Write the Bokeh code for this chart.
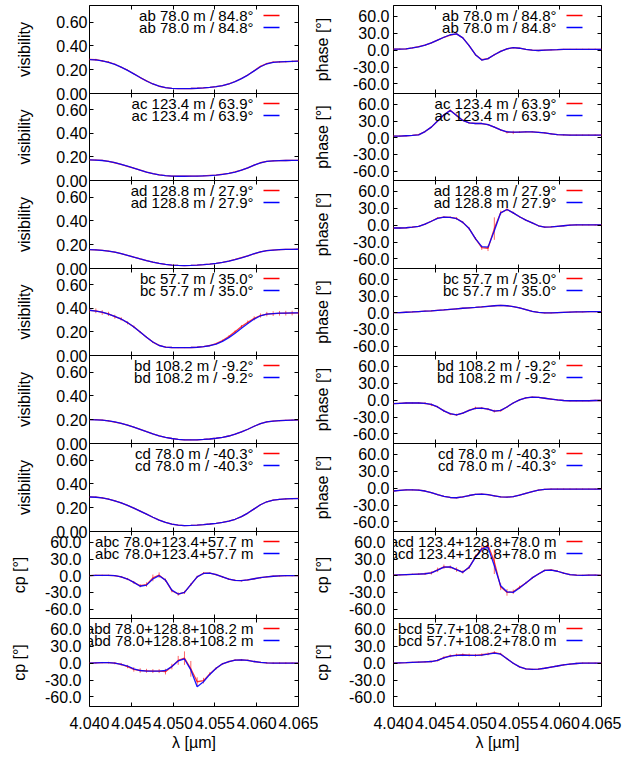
from bokeh.plotting import figure
from bokeh.layouts import row, column
from bokeh.models import Range1d, LinearAxis, FixedTicker, PrintfTickFormatter, Label
from bokeh.embed import file_html
from bokeh.resources import INLINE

# ---------------- data ----------------
wavelength = [4.04000, 4.04076, 4.04152, 4.04227, 4.04303, 4.04379, 4.04455, 4.04530,
              4.04606, 4.04682, 4.04758, 4.04833, 4.04909, 4.04985, 4.05061, 4.05136,
              4.05212, 4.05288, 4.05364, 4.05439, 4.05515, 4.05591, 4.05667, 4.05742,
              4.05818, 4.05894, 4.05970, 4.06045, 4.06121, 4.06197, 4.06273, 4.06348,
              4.06424, 4.06500]

x_ticks = [4.040, 4.045, 4.050, 4.055, 4.060, 4.065]
vis_ticks = [0.0, 0.2, 0.4, 0.6]
phase_ticks = [-60.0, -30.0, 0.0, 30.0, 60.0]

# visibilities (observed = red, model = blue)
vis_ab_obs = [0.287,0.284,0.274,0.264,0.246,0.221,0.196,0.166,0.134,0.106,0.080,0.061,0.050,0.043,0.041,0.041,0.042,0.044,0.047,0.052,0.058,0.066,0.081,0.101,0.126,0.156,0.192,0.228,0.252,0.263,0.266,0.268,0.270,0.273]
vis_ab_mod = [0.285,0.283,0.275,0.262,0.245,0.222,0.195,0.165,0.135,0.105,0.080,0.062,0.050,0.043,0.041,0.041,0.042,0.044,0.047,0.051,0.057,0.066,0.080,0.100,0.125,0.155,0.190,0.225,0.250,0.262,0.266,0.268,0.270,0.272]
vis_ab_err = [0.008,0.008,0.007,0.007,0.006,0.005,0.004,0.004,0.003,0.003,0.002,0.002,0.002,0.002,0.002,0.002,0.002,0.002,0.002,0.002,0.002,0.002,0.002,0.003,0.003,0.004,0.004,0.005,0.006,0.007,0.007,0.007,0.008,0.008]

vis_ac_obs = [0.176,0.174,0.171,0.163,0.151,0.138,0.121,0.105,0.089,0.072,0.058,0.048,0.041,0.037,0.036,0.036,0.037,0.038,0.040,0.043,0.046,0.053,0.061,0.073,0.089,0.108,0.131,0.151,0.163,0.167,0.169,0.170,0.171,0.172]
vis_ac_mod = [0.175,0.174,0.170,0.163,0.152,0.138,0.122,0.105,0.088,0.072,0.058,0.048,0.041,0.037,0.036,0.036,0.037,0.038,0.040,0.042,0.046,0.052,0.060,0.072,0.088,0.108,0.130,0.150,0.162,0.167,0.169,0.170,0.171,0.172]
vis_ac_err = [0.004,0.004,0.004,0.004,0.003,0.003,0.003,0.003,0.002,0.002,0.002,0.002,0.002,0.002,0.002,0.002,0.002,0.002,0.002,0.002,0.002,0.002,0.002,0.002,0.002,0.003,0.003,0.003,0.003,0.004,0.004,0.004,0.004,0.004]

vis_ad_obs = [0.159,0.157,0.152,0.146,0.137,0.125,0.110,0.096,0.081,0.067,0.054,0.043,0.035,0.029,0.026,0.025,0.026,0.028,0.032,0.037,0.043,0.051,0.062,0.076,0.092,0.107,0.124,0.140,0.150,0.155,0.158,0.160,0.161,0.162]
vis_ad_mod = [0.158,0.157,0.153,0.146,0.137,0.125,0.111,0.096,0.081,0.067,0.054,0.043,0.035,0.029,0.026,0.025,0.026,0.028,0.032,0.037,0.043,0.051,0.062,0.075,0.090,0.107,0.125,0.140,0.150,0.155,0.158,0.160,0.161,0.162]
vis_ad_err = [0.004,0.004,0.004,0.003,0.003,0.003,0.003,0.002,0.002,0.002,0.002,0.002,0.002,0.002,0.002,0.002,0.002,0.002,0.002,0.002,0.002,0.002,0.002,0.002,0.002,0.003,0.003,0.003,0.003,0.003,0.004,0.004,0.004,0.004]

vis_bc_obs = [0.383,0.380,0.366,0.354,0.330,0.311,0.278,0.244,0.199,0.156,0.114,0.086,0.072,0.068,0.067,0.067,0.068,0.070,0.076,0.085,0.101,0.127,0.162,0.203,0.246,0.283,0.316,0.340,0.352,0.356,0.359,0.360,0.361,0.362]
vis_bc_mod = [0.385,0.378,0.368,0.352,0.333,0.310,0.280,0.243,0.200,0.155,0.115,0.085,0.072,0.068,0.067,0.067,0.068,0.070,0.075,0.083,0.097,0.120,0.152,0.190,0.232,0.272,0.310,0.338,0.352,0.357,0.360,0.361,0.362,0.362]
vis_bc_err = [0.020,0.020,0.020,0.018,0.017,0.015,0.013,0.011,0.009,0.007,0.006,0.005,0.004,0.004,0.004,0.004,0.004,0.004,0.004,0.005,0.006,0.007,0.009,0.011,0.013,0.015,0.017,0.018,0.019,0.020,0.020,0.020,0.020,0.020]

vis_bd_obs = [0.201,0.200,0.196,0.190,0.180,0.169,0.154,0.137,0.118,0.099,0.081,0.065,0.052,0.042,0.035,0.031,0.030,0.031,0.034,0.038,0.044,0.052,0.063,0.078,0.097,0.120,0.145,0.167,0.181,0.188,0.192,0.195,0.197,0.199]
vis_bd_mod = [0.200,0.199,0.196,0.190,0.181,0.169,0.154,0.137,0.118,0.099,0.081,0.065,0.052,0.042,0.035,0.031,0.030,0.031,0.034,0.038,0.044,0.052,0.063,0.078,0.097,0.120,0.145,0.167,0.181,0.188,0.192,0.195,0.197,0.198]
vis_bd_err = [0.005,0.005,0.005,0.004,0.004,0.004,0.003,0.003,0.003,0.002,0.002,0.002,0.002,0.002,0.002,0.002,0.002,0.002,0.002,0.002,0.002,0.002,0.002,0.002,0.003,0.003,0.003,0.004,0.004,0.004,0.005,0.005,0.005,0.005]

vis_cd_obs = [0.291,0.289,0.282,0.272,0.258,0.240,0.220,0.197,0.172,0.146,0.120,0.096,0.076,0.062,0.053,0.050,0.051,0.054,0.058,0.063,0.069,0.077,0.088,0.103,0.125,0.155,0.190,0.225,0.250,0.264,0.270,0.274,0.276,0.278]
vis_cd_mod = [0.290,0.288,0.282,0.272,0.258,0.240,0.220,0.197,0.172,0.146,0.120,0.096,0.076,0.062,0.053,0.050,0.051,0.054,0.058,0.063,0.069,0.077,0.088,0.103,0.125,0.155,0.190,0.225,0.250,0.263,0.270,0.274,0.276,0.277]
vis_cd_err = [0.006,0.006,0.006,0.005,0.005,0.004,0.004,0.003,0.003,0.003,0.002,0.002,0.002,0.002,0.002,0.002,0.002,0.002,0.002,0.002,0.002,0.002,0.002,0.003,0.003,0.003,0.004,0.004,0.005,0.005,0.005,0.006,0.006,0.006]

# differential phases [deg]
phi_ab_obs = [2.0,2.0,2.5,4.0,6.5,9.0,13.0,18.0,23.0,27.0,29.0,22.0,8.0,-8.0,-17.0,-15.0,-8.0,-2.0,2.5,4.5,3.5,1.5,0.0,-0.5,0.0,0.5,1.0,1.5,1.5,1.5,1.5,1.5,1.5,1.5]
phi_ab_mod = [2.0,2.0,2.5,4.0,6.0,9.0,13.0,18.0,23.0,27.5,29.0,22.0,8.0,-8.0,-17.5,-15.0,-8.0,-2.0,2.5,4.5,3.5,1.5,0.0,-0.5,0.0,0.5,1.0,1.5,1.5,1.5,1.5,1.5,1.5,1.5]
phi_ab_err = [1.5,1.2,1.0,0.8,0.8,0.8,0.8,0.8,0.8,0.8,1.0,1.0,1.0,1.2,1.5,1.5,1.5,1.2,1.0,1.0,0.8,0.8,0.8,0.8,0.8,0.8,0.8,0.8,0.8,1.0,1.0,1.2,1.2,1.5]

phi_ac_obs = [3.0,3.0,3.5,4.0,5.5,11.0,19.0,30.0,41.0,49.5,40.0,31.0,26.5,25.5,25.5,23.5,19.0,14.0,10.0,9.5,10.0,10.5,10.5,9.5,8.5,7.0,5.5,5.0,4.5,4.5,4.5,4.5,4.5,4.5]
phi_ac_mod = [3.0,3.0,3.5,4.0,5.0,11.0,19.0,30.0,41.0,49.0,40.0,31.0,26.5,25.5,25.5,23.5,19.0,14.0,10.5,10.0,10.0,10.5,10.5,9.5,8.5,7.0,5.5,5.0,4.5,4.5,4.5,4.5,4.5,4.5]
phi_ac_err = [1.5,1.2,1.0,1.0,1.0,1.0,1.0,1.2,1.5,1.5,1.5,1.2,1.0,1.0,1.0,1.2,1.2,1.5,2.5,3.0,1.5,1.0,1.0,1.0,1.0,1.0,1.0,1.0,1.0,1.0,1.0,1.2,1.2,1.5]

phi_ad_obs = [-5.0,-5.0,-4.5,-3.5,-2.0,2.0,7.0,12.5,14.5,14.0,12.0,5.0,-6.0,-24.0,-40.0,-41.0,-6.0,22.0,28.0,22.0,15.0,9.0,4.0,-1.0,-3.5,-3.0,-2.0,-1.0,0.0,0.5,0.5,0.5,0.5,0.5]
phi_ad_mod = [-5.0,-5.0,-4.5,-3.5,-2.0,2.0,7.0,12.0,14.5,14.0,11.5,5.0,-6.0,-24.0,-38.0,-39.0,-10.0,22.0,28.0,22.0,15.0,9.0,4.0,-1.0,-3.5,-3.0,-2.0,-1.0,0.0,0.5,0.5,0.5,0.5,0.5]
phi_ad_err = [1.5,1.2,1.0,1.0,1.0,1.0,1.2,1.5,1.5,1.5,2.5,2.0,2.0,2.5,4.0,5.0,20.0,4.0,3.0,2.0,1.5,1.2,1.0,1.0,1.0,1.0,1.0,1.0,1.0,1.0,1.0,1.0,1.2,1.5]

phi_bc_obs = [0.0,0.3,0.8,1.3,2.0,2.7,3.4,4.2,5.0,6.0,7.0,8.0,8.8,9.6,10.5,11.5,12.5,13.0,12.5,11.0,8.5,5.5,2.5,0.5,-0.5,-0.5,0.0,0.5,1.0,1.3,1.5,1.8,2.0,2.0]
phi_bc_mod = [0.0,0.3,0.8,1.3,2.0,2.7,3.4,4.2,5.0,6.0,7.0,8.0,8.8,9.6,10.5,11.5,12.5,13.0,12.5,11.0,8.5,5.5,2.5,0.5,-0.5,-0.5,0.0,0.5,1.0,1.3,1.5,1.8,2.0,2.0]
phi_bc_err = [1.2,1.0,0.8,0.8,0.8,0.8,0.8,0.8,0.8,0.8,0.8,0.8,0.8,0.8,0.8,0.8,0.8,0.8,0.8,0.8,0.8,0.8,0.8,0.8,0.8,0.8,0.8,0.8,0.8,0.8,0.8,1.0,1.0,1.2]

phi_bd_obs = [-6.0,-5.5,-5.0,-5.0,-5.0,-5.5,-8.0,-12.0,-19.0,-24.5,-26.0,-23.0,-18.0,-14.0,-14.0,-16.0,-19.5,-18.5,-12.0,-5.0,0.5,4.0,5.5,5.0,3.5,2.0,0.5,-0.5,-1.0,-1.0,-1.0,-1.0,-0.5,-0.5]
phi_bd_mod = [-6.0,-5.5,-5.0,-5.0,-5.0,-5.5,-7.5,-12.0,-19.0,-24.0,-26.0,-23.0,-18.0,-14.5,-14.0,-16.0,-19.5,-18.0,-12.0,-5.0,0.5,4.0,5.5,5.0,3.5,2.0,0.5,-0.5,-1.0,-1.0,-1.0,-1.0,-0.5,-0.5]
phi_bd_err = [1.5,1.2,1.0,1.0,1.2,2.0,2.5,2.0,2.0,2.0,2.0,1.5,1.5,2.5,2.0,2.0,2.5,2.0,1.5,1.2,1.0,1.0,1.0,1.0,1.0,1.0,1.0,1.0,1.0,1.0,1.0,1.0,1.2,1.5]

phi_cd_obs = [-5.0,-4.0,-3.0,-3.0,-3.5,-5.0,-8.0,-11.5,-14.5,-16.5,-17.0,-15.5,-13.0,-11.0,-10.5,-11.5,-13.5,-15.5,-16.0,-15.0,-12.5,-9.0,-6.0,-3.5,-2.0,-1.5,-1.5,-1.5,-1.5,-1.5,-1.5,-1.5,-1.5,-1.5]
phi_cd_mod = [-5.0,-4.0,-3.0,-3.0,-3.5,-5.0,-8.0,-11.5,-14.5,-16.5,-17.0,-15.5,-13.0,-11.0,-10.5,-11.5,-13.5,-15.5,-16.0,-15.0,-12.5,-9.0,-6.0,-3.5,-2.0,-1.5,-1.5,-1.5,-1.5,-1.5,-1.5,-1.5,-1.5,-1.5]
phi_cd_err = [1.5,1.2,1.0,1.0,1.0,1.0,1.0,1.0,1.0,1.0,1.0,1.0,1.0,1.0,1.0,1.0,1.0,1.0,1.0,1.0,1.0,1.0,1.0,1.0,1.0,1.0,1.0,1.0,1.0,1.0,1.0,1.0,1.2,1.5]

# closure phases [deg]
cp_abc_obs = [0.0,0.5,0.5,0.5,0.0,-2.0,-6.0,-12.0,-18.0,-16.0,-4.0,1.0,-8.0,-27.0,-33.0,-30.0,-16.0,-2.0,4.5,4.5,2.0,-2.0,-6.0,-8.5,-9.0,-7.5,-5.5,-3.5,-2.0,-1.0,-0.5,0.0,0.0,0.0]
cp_abc_mod = [0.0,0.5,0.5,0.5,0.0,-2.0,-6.0,-12.0,-19.0,-17.0,-6.0,0.0,-8.0,-26.0,-33.0,-30.0,-16.0,-2.0,4.0,4.5,2.0,-2.0,-6.0,-8.5,-9.0,-7.5,-5.5,-3.5,-2.0,-1.0,-0.5,0.0,0.0,0.0]
cp_abc_err = [1.5,1.2,1.2,1.2,1.2,1.5,2.0,2.5,3.0,4.0,6.0,5.0,3.0,3.0,3.0,3.0,2.5,2.0,2.0,1.5,1.5,1.5,1.5,1.5,1.5,1.5,1.5,1.5,1.2,1.2,1.2,1.2,1.2,1.5]

cp_abd_obs = [0.0,0.5,1.0,1.0,0.0,-2.0,-6.0,-11.0,-13.0,-13.5,-14.0,-14.0,-15.0,-6.0,5.0,9.0,-10.0,-33.0,-31.0,-19.0,-9.0,-1.0,3.0,5.5,6.0,5.0,3.0,1.5,0.5,0.0,0.0,0.0,0.0,0.0]
cp_abd_mod = [0.0,0.5,1.0,1.0,0.0,-2.0,-5.0,-10.0,-13.0,-14.0,-14.0,-14.0,-13.0,-6.0,4.0,7.5,-12.0,-42.0,-33.0,-20.0,-9.0,-1.0,3.0,5.5,6.0,5.0,3.0,1.5,0.5,0.0,0.0,0.0,0.0,0.0]
cp_abd_err = [1.5,1.2,1.2,1.5,2.0,2.5,3.0,4.0,4.0,3.5,3.5,3.5,5.0,5.0,8.0,12.0,14.0,8.0,5.0,3.0,2.0,1.5,1.5,1.5,1.5,1.5,1.5,1.5,1.5,1.5,1.5,1.5,1.5,1.5]

cp_acd_obs = [1.0,1.5,2.0,2.5,3.0,3.5,5.0,10.5,16.0,15.5,11.0,6.5,15.0,34.0,49.0,55.0,25.0,-20.0,-30.0,-29.0,-21.0,-13.0,-4.0,3.0,9.5,10.5,8.0,4.5,2.0,1.0,0.5,1.0,1.0,0.5]
cp_acd_mod = [1.0,1.5,2.0,2.5,3.0,3.5,5.0,10.0,15.5,16.0,11.0,6.0,15.0,33.0,48.0,51.0,18.0,-18.0,-29.0,-30.0,-22.0,-13.0,-4.0,3.0,9.5,10.0,8.0,4.5,2.0,1.0,0.5,1.0,1.0,0.5]
cp_acd_err = [1.5,1.2,1.2,1.2,1.5,2.0,3.0,4.0,4.0,3.0,4.0,3.0,3.0,4.0,6.0,9.0,22.0,6.0,6.0,4.0,3.0,2.0,2.0,1.5,1.5,1.5,1.5,1.5,1.2,1.2,1.2,1.2,1.2,1.5]

cp_bcd_obs = [0.0,0.5,1.0,1.5,2.0,2.5,3.0,5.0,10.0,13.0,14.5,15.0,14.5,14.0,15.0,16.5,19.0,16.5,8.0,0.0,-6.5,-10.0,-11.0,-10.5,-9.0,-7.0,-5.0,-3.0,-1.5,-0.5,0.0,0.0,0.0,0.0]
cp_bcd_mod = [0.0,0.5,1.0,1.5,2.0,2.5,3.0,5.0,9.5,12.5,14.0,14.5,14.0,14.0,14.5,16.0,18.0,16.0,8.0,0.0,-6.5,-10.0,-11.0,-10.5,-9.0,-7.0,-5.0,-3.0,-1.5,-0.5,0.0,0.0,0.0,0.0]
cp_bcd_err = [1.2,1.0,1.0,1.0,1.0,1.2,1.5,2.0,2.5,2.5,2.5,2.5,2.5,2.5,2.5,2.5,2.5,2.0,1.5,1.2,1.2,1.2,1.2,1.2,1.2,1.2,1.2,1.2,1.2,1.2,1.2,1.2,1.2,1.2]

left_titles = ["ab 78.0 m / 84.8°", "ac 123.4 m / 63.9°", "ad 128.8 m / 27.9°",
               "bc 57.7 m / 35.0°", "bd 108.2 m / -9.2°", "cd 78.0 m / -40.3°",
               "abc 78.0+123.4+57.7 m", "abd 78.0+128.8+108.2 m"]
right_titles = ["ab 78.0 m / 84.8°", "ac 123.4 m / 63.9°", "ad 128.8 m / 27.9°",
                "bc 57.7 m / 35.0°", "bd 108.2 m / -9.2°", "cd 78.0 m / -40.3°",
                "acd 123.4+128.8+78.0 m", "bcd 57.7+108.2+78.0 m"]

left_series = [(vis_ab_obs, vis_ab_mod, vis_ab_err), (vis_ac_obs, vis_ac_mod, vis_ac_err),
               (vis_ad_obs, vis_ad_mod, vis_ad_err), (vis_bc_obs, vis_bc_mod, vis_bc_err),
               (vis_bd_obs, vis_bd_mod, vis_bd_err), (vis_cd_obs, vis_cd_mod, vis_cd_err),
               (cp_abc_obs, cp_abc_mod, cp_abc_err), (cp_abd_obs, cp_abd_mod, cp_abd_err)]
right_series = [(phi_ab_obs, phi_ab_mod, phi_ab_err), (phi_ac_obs, phi_ac_mod, phi_ac_err),
                (phi_ad_obs, phi_ad_mod, phi_ad_err), (phi_bc_obs, phi_bc_mod, phi_bc_err),
                (phi_bd_obs, phi_bd_mod, phi_bd_err), (phi_cd_obs, phi_cd_mod, phi_cd_err),
                (cp_acd_obs, cp_acd_mod, cp_acd_err), (cp_bcd_obs, cp_bcd_mod, cp_bcd_err)]

# ---------------- layout / style ----------------
FONT = "Liberation Sans"
TICK_SIZE = "16px"
LEG_SIZE = "15px"
H = [88, 87, 88, 87, 88, 88, 87, 88]
OV = 10          # extra border above/below each panel, overlapped with neighbours
HOV = 10         # horizontal overlap between the two columns
X_RANGE = (4.040, 4.065)
VIS_RANGE = (0.0, 0.74)
PH_RANGE = (-77.0, 79.5)


def style_axis(ax, ticks, fmt, show_labels):
    ax.ticker = FixedTicker(ticks=ticks)
    ax.formatter = PrintfTickFormatter(format=fmt)
    ax.major_tick_in = 4
    ax.major_tick_out = 0
    ax.minor_tick_in = 0
    ax.minor_tick_out = 0
    ax.axis_line_color = None
    ax.major_tick_line_color = "black"
    ax.major_tick_line_width = 1
    ax.major_label_text_font = FONT
    ax.major_label_text_color = "black"
    ax.axis_label_text_font = FONT
    ax.axis_label_text_font_style = "normal"
    ax.axis_label_text_font_size = TICK_SIZE
    ax.axis_label_text_color = "black"
    if show_labels:
        ax.major_label_text_font_size = TICK_SIZE
    else:
        ax.major_label_text_font_size = "0px"
        ax.major_label_text_color = None
        ax.major_label_standoff = 0


def make_panel(r, col, kind, title, obs, mod, err):
    left = col == 0
    fw = 209 if left else 208
    fh = H[r]
    yr = VIS_RANGE if kind == "vis" else PH_RANGE
    bottom = r == len(H) - 1
    p = figure(frame_width=fw, frame_height=fh,
               x_range=Range1d(*X_RANGE), y_range=Range1d(*yr),
               output_backend="svg", toolbar_location=None,
               min_border=0,
               min_border_left=89 if left else 75 + HOV,
               min_border_right=20 if left else 34,
               min_border_top=5 if r == 0 else OV,
               min_border_bottom=52 if bottom else OV,
               background_fill_alpha=0, border_fill_alpha=0,
               outline_line_color="black", outline_line_width=1,
               margin=(0, 0, 0, 0) if left else (0, 0, 0, -HOV))
    p.grid.visible = False

    # bottom x axis
    style_axis(p.xaxis[0], x_ticks, "%.3f", bottom)
    if bottom:
        p.xaxis[0].axis_label = "λ [µm]"
        p.xaxis[0].major_label_standoff = 10
        p.xaxis[0].axis_label_standoff = 2
    # left y axis
    yax = p.yaxis[0]
    if kind == "vis":
        style_axis(yax, vis_ticks, "%.2f", True)
        yax.axis_label = "visibility"
        yax.major_label_standoff = 2
        yax.axis_label_standoff = 20
    else:
        style_axis(yax, phase_ticks, "%.1f", True)
        yax.axis_label = "phase [°]" if kind == "phase" else "cp [°]"
        yax.major_label_standoff = 4 if kind == "phase" else 8
        if left:
            yax.axis_label_standoff = 14
        else:
            yax.axis_label_standoff = 19 if kind == "phase" else 15

    # mirrored ticks
    top = LinearAxis()
    style_axis(top, x_ticks, "%.3f", False)
    p.add_layout(top, "above")
    right = LinearAxis()
    style_axis(right, vis_ticks if kind == "vis" else phase_ticks, "%.2f", False)
    p.add_layout(right, "right")

    # data: red observations with error bars, blue model
    lo = [v - e for v, e in zip(obs, err)]
    hi = [v + e for v, e in zip(obs, err)]
    p.segment(x0=wavelength, y0=lo, x1=wavelength, y1=hi,
              line_color="#ff0000", line_alpha=0.6, line_width=1)
    p.line(wavelength, obs, line_color="#ff0000", line_alpha=0.8, line_width=1.3)
    p.line(wavelength, mod, line_color="#0000ff", line_alpha=0.9, line_width=1.3)

    # gnuplot-style key (text left of sample line), placed from pixel offsets
    dx = (X_RANGE[1] - X_RANGE[0]) / fw
    dy = (yr[1] - yr[0]) / fh
    for k, color in enumerate(["#ff0000", "#0000ff"]):
        yy = yr[1] - (10 + 12 * k) * dy
        p.add_layout(Label(x=X_RANGE[1] - 45 * dx, y=yy, text=title,
                           text_align="right", text_baseline="middle",
                           text_font=FONT, text_font_size=LEG_SIZE, text_color="black"))
        p.segment(x0=[X_RANGE[1] - 35 * dx], y0=[yy], x1=[X_RANGE[1] - 19 * dx], y1=[yy],
                  line_color=color, line_width=1.3)
    return p


rows = []
for r in range(8):
    lk = "vis" if r < 6 else "cp"
    rk = "phase" if r < 6 else "cp"
    pl = make_panel(r, 0, lk, left_titles[r], *left_series[r])
    pr = make_panel(r, 1, rk, right_titles[r], *right_series[r])
    rows.append(row(pl, pr, spacing=0, margin=(0 if r == 0 else -2 * OV, 0, 0, 0)))

page = column(*rows, spacing=0, margin=0)

open("out.html", "w").write(file_html(page, INLINE))
